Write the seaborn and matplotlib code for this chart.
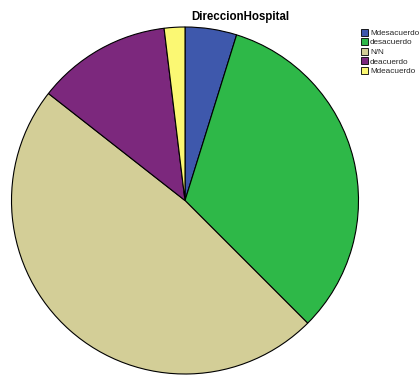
import matplotlib
matplotlib.use("Agg")
import matplotlib.pyplot as plt
import seaborn as sns

# Response counts per answer category
categories = ["Mdesacuerdo", "desacuerdo", "N/N", "deacuerdo", "Mdeacuerdo"]
counts = [5, 34, 50, 13, 2]
colors = ["#3E58AC", "#2EB848", "#D3CE97", "#7C287D", "#FBF873"]
title = "DireccionHospital"

sns.set_theme(style="white")
plt.rcParams["font.family"] = ["Liberation Sans", "DejaVu Sans"]
palette = sns.color_palette(colors)

W, H = 419, 376
fig = plt.figure(figsize=(W / 100, H / 100), dpi=100)
fig.patch.set_facecolor("white")

cx, cy, r = 185, 200.5, 173.5
ax = fig.add_axes([(cx - r) / W, (H - cy - r) / H, 2 * r / W, 2 * r / H])
wedges, _ = ax.pie(
    counts,
    colors=palette,
    startangle=90,
    counterclock=False,
    radius=1.0,
    wedgeprops=dict(edgecolor="black", linewidth=0.8),
)
ax.set_xlim(-1.0, 1.0)
ax.set_ylim(-1.0, 1.0)
ax.set_aspect("equal")
ax.axis("off")

fig.text(240 / W, 1 - 17 / H, title, ha="center", va="center",
         fontsize=8.3, fontweight="bold", color="black")

leg = fig.legend(
    wedges, categories,
    loc="upper left", bbox_to_anchor=(361 / W, 1 - 28.5 / H),
    frameon=False, fontsize=5.9,
    handlelength=0.9, handleheight=0.95, handletextpad=0.2,
    labelspacing=0.15, borderpad=0, borderaxespad=0,
)
for h in leg.legend_handles:
    h.set_edgecolor("black")
    h.set_linewidth(0.6)

fig.savefig("out.png", dpi=100, facecolor="white")
